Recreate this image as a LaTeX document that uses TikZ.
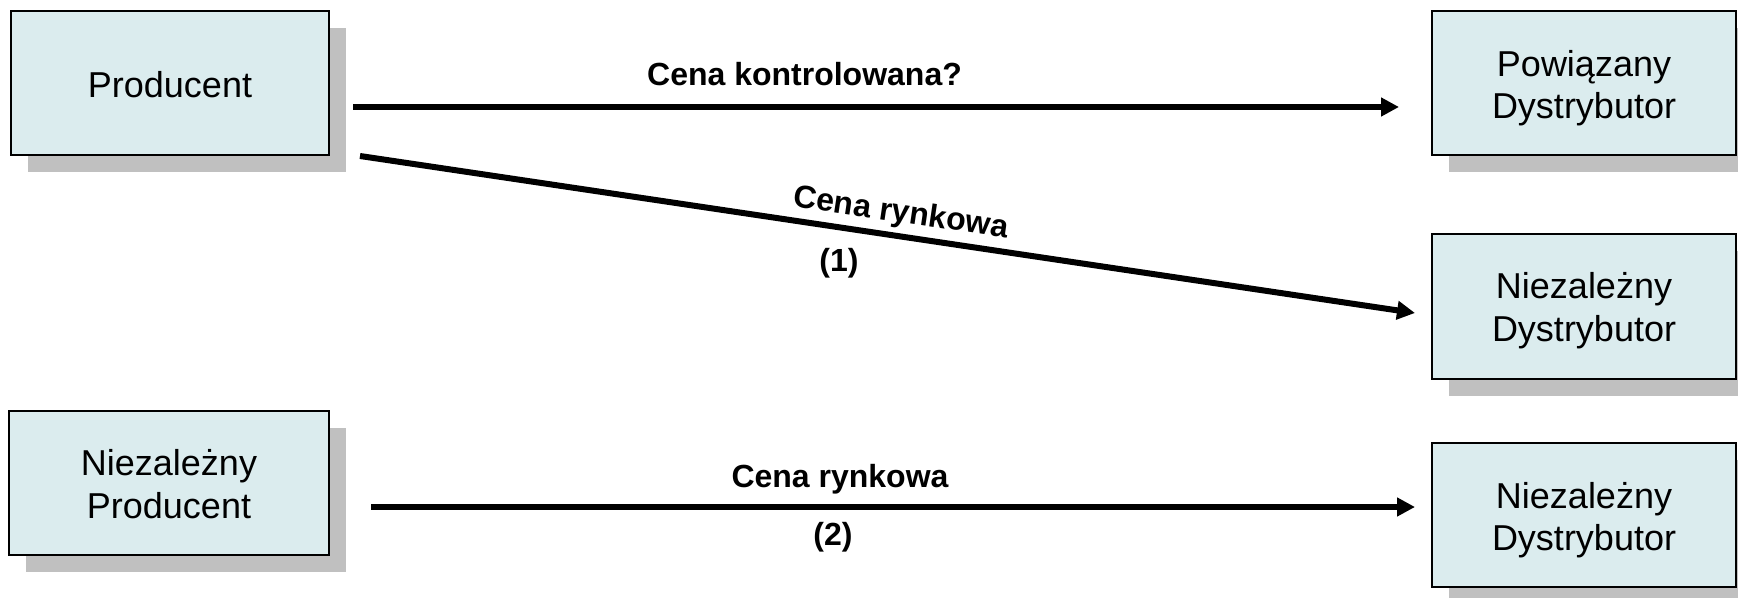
\documentclass[tikz,border=0pt]{standalone}
\usepackage{fontspec}
\setmainfont{Liberation Sans}
\usetikzlibrary{arrows.meta,shadows}
\definecolor{boxfill}{RGB}{219,236,238}
\definecolor{shadowgray}{RGB}{192,192,192}
\begin{document}
\begin{tikzpicture}[x=0.5pt,y=-0.5pt,
  box/.style={draw=black, line width=1pt, fill=boxfill, inner sep=0pt,
    drop shadow={shadow xshift=8.5pt, shadow yshift=-8.5pt, fill=shadowgray, opacity=1}},
  boxtext/.style={inner sep=0pt, align=center, font=\fontsize{18}{21.3}\selectfont},
  flow/.style={line width=3pt, -{Triangle[length=9pt,width=9pt]}},
  lbl/.style={font=\bfseries\fontsize{16}{18}\selectfont, inner sep=0pt}]
\useasboundingbox (0,0) rectangle (1738,598);
\clip (0,0) rectangle (1738,598);
\node[box, minimum width=159pt, minimum height=72pt] (b1) at (170,83) {};
\node[box, minimum width=152pt, minimum height=72pt] (b2) at (1584,83) {};
\node[box, minimum width=152pt, minimum height=72.5pt] (b3) at (1584,306.5) {};
\node[box, minimum width=160pt, minimum height=72pt] (b4) at (169,483) {};
\node[box, minimum width=152pt, minimum height=72pt] (b5) at (1584,515) {};
\node[boxtext] (t1) at ([yshift=-1pt]b1.center) {Producent};
\node[boxtext] (t2) at ([yshift=-2.5pt]b2.center) {Powiązany\\Dystrybutor};
\node[boxtext] (t3) at ([yshift=-2pt]b3.center) {Niezależny\\Dystrybutor};
\node[boxtext] (t4) at ([yshift=-0.5pt]b4.center) {Niezależny\\Producent};
\node[boxtext] (t5) at ([yshift=-2.5pt]b5.center) {Niezależny\\Dystrybutor};
\coordinate (a1s) at (353,107);
\coordinate (a1e) at (1399,107);
\coordinate (a2s) at (360,156);
\coordinate (a2e) at (1415,313);
\coordinate (a3s) at (371,507);
\coordinate (a3e) at (1415,507);
\draw[flow] (a1s) -- (a1e);
\draw[flow] (a2s) -- (a2e);
\draw[flow] (a3s) -- (a3e);
\node[lbl, anchor=base] (l1) at (804.5,86) {Cena kontrolowana?};
\node[lbl, rotate=-8.46] (l2) at (901,214) {Cena rynkowa};
\node[lbl] (n1) at (839,263) {(1)};
\node[lbl, anchor=base] (l3) at (840,487) {Cena rynkowa};
\node[lbl, anchor=base] (n2) at (833,545) {(2)};
\end{tikzpicture}
\end{document}
